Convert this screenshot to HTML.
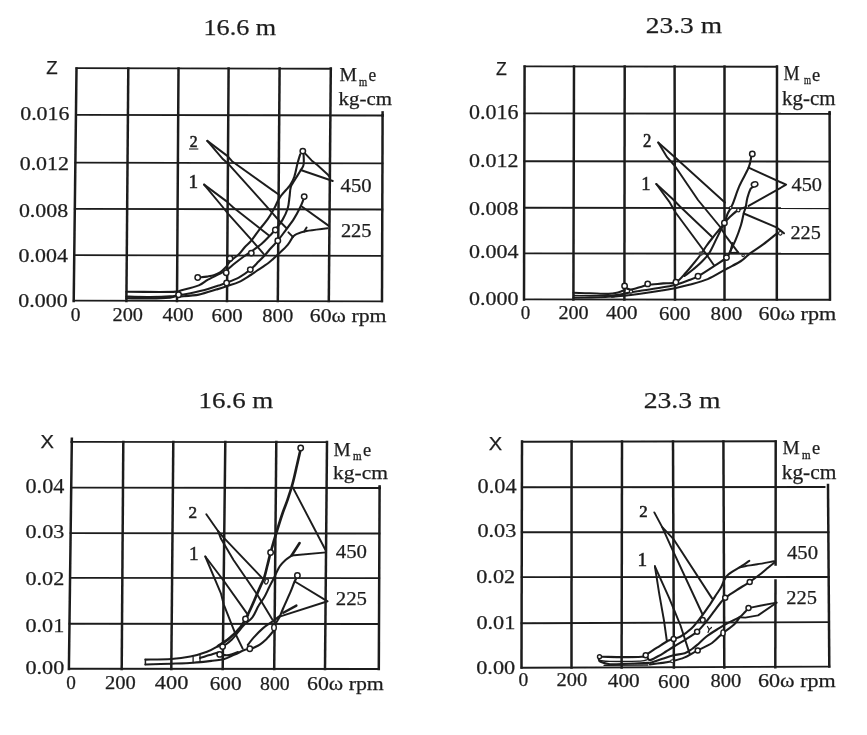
<!DOCTYPE html>
<html><head><meta charset="utf-8"><title>chart</title>
<style>
html,body{margin:0;padding:0;background:#fff;}
body{width:867px;height:735px;overflow:hidden;font-family:"Liberation Serif",serif;}
svg{display:block;}
</style></head><body>
<svg width="867" height="735" viewBox="0 0 867 735">
<defs><filter id="b" x="0" y="0" width="867" height="735" filterUnits="userSpaceOnUse"><feGaussianBlur stdDeviation="0.4"/></filter></defs>
<rect width="867" height="735" fill="#fff"/>
<g filter="url(#b)">
<line x1="76.5" y1="68.5" x2="73.7" y2="301" stroke="#1e1e1e" stroke-width="2.5" stroke-linecap="square"/>
<line x1="128.3" y1="68.5" x2="126.4" y2="301" stroke="#1e1e1e" stroke-width="2.5" stroke-linecap="square"/>
<line x1="178.5" y1="68.5" x2="177" y2="301" stroke="#1e1e1e" stroke-width="2.5" stroke-linecap="square"/>
<line x1="228.6" y1="68.5" x2="227" y2="301" stroke="#1e1e1e" stroke-width="2.5" stroke-linecap="square"/>
<line x1="279.6" y1="68.5" x2="277.8" y2="301" stroke="#1e1e1e" stroke-width="2.5" stroke-linecap="square"/>
<line x1="330.8" y1="68.5" x2="328.8" y2="301" stroke="#1e1e1e" stroke-width="2.5" stroke-linecap="square"/>
<line x1="382.6" y1="115.2" x2="382" y2="301" stroke="#1e1e1e" stroke-width="2.5" stroke-linecap="square"/>
<line x1="76.5" y1="68.15" x2="330.8" y2="68.73333333333333" stroke="#1e1e1e" stroke-width="1.9" stroke-linecap="square"/>
<line x1="75.93759139784946" y1="114.85000000000001" x2="382.6" y2="115.55" stroke="#1e1e1e" stroke-width="1.9" stroke-linecap="square"/>
<line x1="75.36193548387097" y1="162.65" x2="382.4456404736276" y2="163.35" stroke="#1e1e1e" stroke-width="1.9" stroke-linecap="square"/>
<line x1="74.80554838709678" y1="208.85" x2="382.2964477933262" y2="209.54999999999998" stroke="#1e1e1e" stroke-width="1.9" stroke-linecap="square"/>
<line x1="74.24795698924731" y1="255.15" x2="382.1469321851453" y2="255.85" stroke="#1e1e1e" stroke-width="1.9" stroke-linecap="square"/>
<line x1="73.7" y1="300.65" x2="382.0" y2="301.35" stroke="#1e1e1e" stroke-width="1.9" stroke-linecap="square"/>
<line x1="382.6" y1="112.4" x2="382.6" y2="115.5" stroke="#1e1e1e" stroke-width="2.5" stroke-linecap="square"/>
<text x="203.5" y="35.2" font-family="Liberation Serif" font-size="23.31" textLength="72.7" lengthAdjust="spacingAndGlyphs" fill="#1e1e1e" stroke="#1e1e1e" stroke-width="0.25" >16.6 m</text>
<text x="46.3" y="74.2" font-family="Liberation Sans" font-size="18.33" textLength="11.4" lengthAdjust="spacingAndGlyphs" fill="#1e1e1e" stroke="#1e1e1e" stroke-width="0.25" >Z</text>
<text x="20.2" y="120" font-family="Liberation Serif" font-size="19.10" textLength="49.3" lengthAdjust="spacingAndGlyphs" fill="#1e1e1e" stroke="#1e1e1e" stroke-width="0.25" >0.016</text>
<text x="19.7" y="169.8" font-family="Liberation Serif" font-size="19.55" textLength="49.3" lengthAdjust="spacingAndGlyphs" fill="#1e1e1e" stroke="#1e1e1e" stroke-width="0.25" >0.012</text>
<text x="18.9" y="216.5" font-family="Liberation Serif" font-size="19.55" textLength="49.3" lengthAdjust="spacingAndGlyphs" fill="#1e1e1e" stroke="#1e1e1e" stroke-width="0.25" >0.008</text>
<text x="18.6" y="262.2" font-family="Liberation Serif" font-size="19.40" textLength="49.3" lengthAdjust="spacingAndGlyphs" fill="#1e1e1e" stroke="#1e1e1e" stroke-width="0.25" >0.004</text>
<text x="18.3" y="307.2" font-family="Liberation Serif" font-size="19.85" textLength="49.3" lengthAdjust="spacingAndGlyphs" fill="#1e1e1e" stroke="#1e1e1e" stroke-width="0.25" >0.000</text>
<text x="70.8" y="320.5" font-family="Liberation Serif" font-size="19.10" textLength="9.7" lengthAdjust="spacingAndGlyphs" fill="#1e1e1e" stroke="#1e1e1e" stroke-width="0.25" >0</text>
<text x="112.5" y="320.5" font-family="Liberation Serif" font-size="19.10" textLength="30.5" lengthAdjust="spacingAndGlyphs" fill="#1e1e1e" stroke="#1e1e1e" stroke-width="0.25" >200</text>
<text x="162.5" y="320.5" font-family="Liberation Serif" font-size="19.10" textLength="31.2" lengthAdjust="spacingAndGlyphs" fill="#1e1e1e" stroke="#1e1e1e" stroke-width="0.25" >400</text>
<text x="211.5" y="322" font-family="Liberation Serif" font-size="19.55" textLength="31.2" lengthAdjust="spacingAndGlyphs" fill="#1e1e1e" stroke="#1e1e1e" stroke-width="0.25" >600</text>
<text x="262.3" y="322" font-family="Liberation Serif" font-size="19.55" textLength="30.9" lengthAdjust="spacingAndGlyphs" fill="#1e1e1e" stroke="#1e1e1e" stroke-width="0.25" >800</text>
<text x="309.8" y="322.2" font-family="Liberation Serif" font-size="19.55" textLength="76.7" lengthAdjust="spacingAndGlyphs" fill="#1e1e1e" stroke="#1e1e1e" stroke-width="0.25" >60ω rpm</text>
<text x="339.5" y="80.8" font-family="Liberation Serif" font-size="18.95" textLength="17.5" lengthAdjust="spacingAndGlyphs" fill="#1e1e1e" stroke="#1e1e1e" stroke-width="0.25" >M</text>
<text x="359.0" y="85.6" font-family="Liberation Serif" font-size="11.52" textLength="8.2" lengthAdjust="spacingAndGlyphs" fill="#1e1e1e" stroke="#1e1e1e" stroke-width="0.3" >m</text>
<text x="368.6" y="81" font-family="Liberation Serif" font-size="18.51" textLength="7.7" lengthAdjust="spacingAndGlyphs" fill="#1e1e1e" stroke="#1e1e1e" stroke-width="0.25" >e</text>
<text x="338.6" y="104.6" font-family="Liberation Serif" font-size="18.45" textLength="53.3" lengthAdjust="spacingAndGlyphs" fill="#1e1e1e" stroke="#1e1e1e" stroke-width="0.25" >kg-cm</text>
<text x="340.6" y="192" font-family="Liberation Serif" font-size="19.55" textLength="31.0" lengthAdjust="spacingAndGlyphs" fill="#1e1e1e" stroke="#1e1e1e" stroke-width="0.25" >450</text>
<text x="340.9" y="236.8" font-family="Liberation Serif" font-size="19.55" textLength="30.7" lengthAdjust="spacingAndGlyphs" fill="#1e1e1e" stroke="#1e1e1e" stroke-width="0.25" >225</text>
<text x="189.8" y="147" font-family="Liberation Serif" font-size="16.54" textLength="7.8" lengthAdjust="spacingAndGlyphs" fill="#1e1e1e" stroke="#1e1e1e" stroke-width="0.6" >2</text>
<line x1="189.5" y1="149" x2="197.8" y2="149" stroke="#1e1e1e" stroke-width="1.1" stroke-linecap="square"/>
<text x="188.38" y="187.8" font-family="Liberation Serif" font-size="19.25" fill="#1e1e1e" stroke="#1e1e1e" stroke-width="0.5">1</text>
<path d="M126.3,291.8 C131.9,291.8 151.7,292.0 160.0,292.0 C168.3,292.0 172.4,291.9 176.0,291.6 C179.6,291.3 177.7,291.3 181.5,290.3 C185.3,289.3 194.4,287.2 198.8,285.4 C203.2,283.6 204.3,281.6 208.0,279.6 C211.7,277.6 217.7,274.7 220.7,273.2 C223.7,271.7 223.9,272.1 226.2,270.5 C228.5,268.9 231.7,265.8 234.6,263.5 C237.5,261.2 241.0,258.5 243.8,256.5 C246.6,254.5 248.3,253.6 251.3,251.5 C254.3,249.4 258.6,246.5 261.7,243.8 C264.8,241.1 267.8,237.8 270.0,235.5 C272.2,233.2 273.1,232.4 275.2,229.8 C277.3,227.2 280.4,223.5 282.5,219.9 C284.6,216.3 286.5,212.3 287.7,208.5 C288.9,204.7 289.0,200.6 289.5,197.0 C290.0,193.4 290.0,189.8 290.8,187.0 C291.6,184.2 292.8,183.3 294.4,180.5 C296.0,177.7 299.2,173.0 300.7,170.3 C302.2,167.7 303.1,167.2 303.6,164.6 C304.1,162.0 303.6,156.2 303.6,154.5" fill="none" stroke="#1e1e1e" stroke-width="2.1" stroke-linecap="round" stroke-linejoin="round"/>
<path d="M200.0,277.3 C201.2,277.2 204.7,277.0 207.0,276.6 C209.3,276.2 211.6,276.0 213.8,275.2 C216.1,274.4 218.6,273.3 220.5,272.0 C222.4,270.7 223.9,269.2 225.5,267.5 C227.1,265.8 227.8,263.7 230.0,261.5 C232.2,259.3 236.5,256.5 238.9,254.2 C241.3,251.9 242.4,249.8 244.5,247.5 C246.6,245.2 248.8,243.7 251.3,240.7 C253.8,237.7 256.8,232.9 259.6,229.3 C262.4,225.7 265.5,222.4 267.9,218.9 C270.3,215.4 272.2,212.1 274.2,208.5 C276.2,204.9 277.2,201.2 279.9,197.3 C282.6,193.4 287.9,188.3 290.3,184.8 C292.7,181.3 293.2,180.1 294.4,176.5 C295.6,172.9 296.6,166.7 297.6,163.0 C298.6,159.3 299.8,155.7 300.2,154.2" fill="none" stroke="#1e1e1e" stroke-width="2.1" stroke-linecap="round" stroke-linejoin="round"/>
<path d="M126.3,296.6 C130.2,296.7 142.7,297.1 150.0,297.0 C157.3,296.9 165.6,296.6 170.0,296.3 C174.4,296.1 175.4,295.6 176.5,295.5" fill="none" stroke="#1e1e1e" stroke-width="2.1" stroke-linecap="round" stroke-linejoin="round"/>
<path d="M126.3,298.3 C130.2,298.3 142.7,298.6 150.0,298.5 C157.3,298.4 165.6,298.0 170.0,297.6 C174.4,297.2 175.4,296.3 176.5,296.0" fill="none" stroke="#1e1e1e" stroke-width="2.1" stroke-linecap="round" stroke-linejoin="round"/>
<line x1="126.3" y1="291.8" x2="126.3" y2="298.3" stroke="#1e1e1e" stroke-width="1.2" stroke-linecap="square"/>
<path d="M180.5,294.3 C181.2,294.3 181.0,295.0 185.0,294.3 C189.0,293.6 199.0,291.4 204.6,290.0 C210.2,288.6 214.8,286.8 218.4,285.6 C222.1,284.4 223.0,284.2 226.5,282.8 C230.0,281.4 235.2,279.5 239.2,277.3 C243.1,275.1 247.0,272.4 250.2,269.8 C253.4,267.2 256.2,264.0 258.6,261.6 C261.0,259.2 262.7,257.5 264.8,255.2 C266.9,252.9 268.8,250.4 271.0,248.0 C273.2,245.6 275.4,243.6 277.8,240.7 C280.2,237.8 282.9,233.9 285.6,230.3 C288.3,226.7 291.5,222.7 293.9,218.9 C296.3,215.1 298.6,210.6 300.1,207.5 C301.7,204.4 302.7,201.4 303.2,200.2" fill="none" stroke="#1e1e1e" stroke-width="2.1" stroke-linecap="round" stroke-linejoin="round"/>
<path d="M180.0,296.5 C183.1,296.2 192.8,295.8 198.8,294.6 C204.8,293.5 211.5,291.0 216.1,289.6 C220.7,288.2 222.7,287.6 226.5,286.3 C230.3,285.0 235.2,283.8 239.2,281.9 C243.2,280.0 247.8,276.8 250.7,275.0 C253.6,273.2 253.4,273.1 256.5,271.0 C259.6,268.9 265.2,265.5 269.0,262.5 C272.8,259.5 276.3,256.1 279.4,253.1 C282.5,250.2 285.5,247.5 287.7,244.8 C289.9,242.1 291.9,238.2 292.7,236.9" fill="none" stroke="#1e1e1e" stroke-width="2.1" stroke-linecap="round" stroke-linejoin="round"/>
<path d="M288.4,232.4 L292.9,236.9" fill="none" stroke="#1e1e1e" stroke-width="1.95" stroke-linecap="round" stroke-linejoin="round"/>
<path d="M292.7,236.9 C293.3,236.4 294.2,235.1 296.5,234.1 C298.8,233.1 301.4,232.0 306.6,231.0 C311.8,230.0 324.0,228.8 327.5,228.3" fill="none" stroke="#1e1e1e" stroke-width="1.95" stroke-linecap="round" stroke-linejoin="round"/>
<path d="M306.6,227.6 L304.2,231.6" fill="none" stroke="#1e1e1e" stroke-width="1.95" stroke-linecap="round" stroke-linejoin="round"/>
<path d="M301.8,206.5 L328.8,225.9" fill="none" stroke="#1e1e1e" stroke-width="1.95" stroke-linecap="round" stroke-linejoin="round"/>
<path d="M305.5,153.8 L311.6,160.4 L317.3,165.1 L327.7,174.4 L329.5,176.8" fill="none" stroke="#1e1e1e" stroke-width="1.95" stroke-linecap="round" stroke-linejoin="round"/>
<path d="M300.7,170.0 L332.8,181.0" fill="none" stroke="#1e1e1e" stroke-width="1.95" stroke-linecap="round" stroke-linejoin="round"/>
<path d="M207.3,140.9 L227.6,156.1 L232.0,161.2 L279.0,194.8" fill="none" stroke="#1e1e1e" stroke-width="1.95" stroke-linecap="round" stroke-linejoin="round"/>
<path d="M207.3,140.9 L223.1,159.3 L228.8,164.3 L266.3,206.2 L279.4,221.0 L286.6,228.2" fill="none" stroke="#1e1e1e" stroke-width="1.95" stroke-linecap="round" stroke-linejoin="round"/>
<path d="M204.1,184.6 L226.3,201.1 L233.3,207.5 L269.0,235.5" fill="none" stroke="#1e1e1e" stroke-width="1.95" stroke-linecap="round" stroke-linejoin="round"/>
<path d="M204.1,184.6 L223.1,207.5 L228.2,213.8 L251.3,239.6 L263.8,254.2" fill="none" stroke="#1e1e1e" stroke-width="1.95" stroke-linecap="round" stroke-linejoin="round"/>
<circle cx="178.6" cy="294.8" r="2.7" fill="#fff" stroke="#1e1e1e" stroke-width="1.5"/>
<circle cx="197.7" cy="277.5" r="2.7" fill="#fff" stroke="#1e1e1e" stroke-width="1.5"/>
<circle cx="226.2" cy="272.7" r="2.7" fill="#fff" stroke="#1e1e1e" stroke-width="1.5"/>
<circle cx="226.6" cy="283" r="2.7" fill="#fff" stroke="#1e1e1e" stroke-width="1.5"/>
<circle cx="230" cy="258.4" r="2.7" fill="#fff" stroke="#1e1e1e" stroke-width="1.5"/>
<circle cx="251.3" cy="253.1" r="2.7" fill="#fff" stroke="#1e1e1e" stroke-width="1.5"/>
<circle cx="250.3" cy="269.6" r="2.7" fill="#fff" stroke="#1e1e1e" stroke-width="1.5"/>
<circle cx="275.3" cy="230" r="2.7" fill="#fff" stroke="#1e1e1e" stroke-width="1.5"/>
<circle cx="277.8" cy="240.7" r="2.7" fill="#fff" stroke="#1e1e1e" stroke-width="1.5"/>
<circle cx="302.8" cy="151.1" r="2.7" fill="#fff" stroke="#1e1e1e" stroke-width="1.5"/>
<circle cx="304.2" cy="196.6" r="2.7" fill="#fff" stroke="#1e1e1e" stroke-width="1.5"/>
<line x1="524.6" y1="66.6" x2="524" y2="299.6" stroke="#1e1e1e" stroke-width="2.5" stroke-linecap="square"/>
<line x1="574" y1="66.6" x2="573.4" y2="299.6" stroke="#1e1e1e" stroke-width="2.5" stroke-linecap="square"/>
<line x1="624.7" y1="66.6" x2="624.4" y2="299.6" stroke="#1e1e1e" stroke-width="2.5" stroke-linecap="square"/>
<line x1="674.6" y1="66.6" x2="675" y2="299.6" stroke="#1e1e1e" stroke-width="2.5" stroke-linecap="square"/>
<line x1="724.5" y1="66.6" x2="724.5" y2="299.6" stroke="#1e1e1e" stroke-width="2.5" stroke-linecap="square"/>
<line x1="777" y1="66.6" x2="776.8" y2="299.6" stroke="#1e1e1e" stroke-width="2.5" stroke-linecap="square"/>
<line x1="829.6" y1="113.6" x2="830" y2="299.6" stroke="#1e1e1e" stroke-width="2.5" stroke-linecap="square"/>
<line x1="524.6" y1="66.39999999999999" x2="777" y2="66.73333333333333" stroke="#1e1e1e" stroke-width="1.9" stroke-linecap="square"/>
<line x1="524.4789699570815" y1="113.39999999999999" x2="829.6" y2="113.8" stroke="#1e1e1e" stroke-width="1.9" stroke-linecap="square"/>
<line x1="524.3558798283262" y1="161.20000000000002" x2="829.7027956989248" y2="161.6" stroke="#1e1e1e" stroke-width="1.9" stroke-linecap="square"/>
<line x1="524.2358798283262" y1="207.8" x2="829.8030107526882" y2="208.2" stroke="#1e1e1e" stroke-width="1.9" stroke-linecap="square"/>
<line x1="524.1184549356224" y1="253.4" x2="829.9010752688172" y2="253.79999999999998" stroke="#1e1e1e" stroke-width="1.9" stroke-linecap="square"/>
<line x1="524.0" y1="299.40000000000003" x2="830.0" y2="299.8" stroke="#1e1e1e" stroke-width="1.9" stroke-linecap="square"/>
<line x1="829.6" y1="112.2" x2="829.6" y2="113.8" stroke="#1e1e1e" stroke-width="2.5" stroke-linecap="square"/>
<text x="645.8" y="33.4" font-family="Liberation Serif" font-size="23.61" textLength="76.2" lengthAdjust="spacingAndGlyphs" fill="#1e1e1e" stroke="#1e1e1e" stroke-width="0.25" >23.3 m</text>
<text x="496" y="74.7" font-family="Liberation Sans" font-size="18.06" textLength="10.8" lengthAdjust="spacingAndGlyphs" fill="#1e1e1e" stroke="#1e1e1e" stroke-width="0.25" >Z</text>
<text x="469" y="119.3" font-family="Liberation Serif" font-size="20.00" textLength="49.5" lengthAdjust="spacingAndGlyphs" fill="#1e1e1e" stroke="#1e1e1e" stroke-width="0.25" >0.016</text>
<text x="469" y="167.3" font-family="Liberation Serif" font-size="19.40" textLength="49.5" lengthAdjust="spacingAndGlyphs" fill="#1e1e1e" stroke="#1e1e1e" stroke-width="0.25" >0.012</text>
<text x="469" y="215" font-family="Liberation Serif" font-size="19.25" textLength="49.5" lengthAdjust="spacingAndGlyphs" fill="#1e1e1e" stroke="#1e1e1e" stroke-width="0.25" >0.008</text>
<text x="469" y="258.3" font-family="Liberation Serif" font-size="19.25" textLength="49.5" lengthAdjust="spacingAndGlyphs" fill="#1e1e1e" stroke="#1e1e1e" stroke-width="0.25" >0.004</text>
<text x="469" y="304.6" font-family="Liberation Serif" font-size="19.40" textLength="49.5" lengthAdjust="spacingAndGlyphs" fill="#1e1e1e" stroke="#1e1e1e" stroke-width="0.25" >0.000</text>
<text x="520.8" y="319.2" font-family="Liberation Serif" font-size="19.10" textLength="9.5" lengthAdjust="spacingAndGlyphs" fill="#1e1e1e" stroke="#1e1e1e" stroke-width="0.25" >0</text>
<text x="558.4" y="319.2" font-family="Liberation Serif" font-size="19.25" textLength="30.2" lengthAdjust="spacingAndGlyphs" fill="#1e1e1e" stroke="#1e1e1e" stroke-width="0.25" >200</text>
<text x="606.1" y="319.2" font-family="Liberation Serif" font-size="19.25" textLength="31.5" lengthAdjust="spacingAndGlyphs" fill="#1e1e1e" stroke="#1e1e1e" stroke-width="0.25" >400</text>
<text x="659" y="319.8" font-family="Liberation Serif" font-size="19.70" textLength="31.4" lengthAdjust="spacingAndGlyphs" fill="#1e1e1e" stroke="#1e1e1e" stroke-width="0.25" >600</text>
<text x="710.6" y="319.8" font-family="Liberation Serif" font-size="19.70" textLength="31.6" lengthAdjust="spacingAndGlyphs" fill="#1e1e1e" stroke="#1e1e1e" stroke-width="0.25" >800</text>
<text x="758.4" y="320" font-family="Liberation Serif" font-size="19.70" textLength="77.8" lengthAdjust="spacingAndGlyphs" fill="#1e1e1e" stroke="#1e1e1e" stroke-width="0.25" >60ω rpm</text>
<text x="783.4" y="80.4" font-family="Liberation Serif" font-size="20.15" textLength="16.1" lengthAdjust="spacingAndGlyphs" fill="#1e1e1e" stroke="#1e1e1e" stroke-width="0.25" >M</text>
<text x="804.0" y="84.3" font-family="Liberation Serif" font-size="11.52" textLength="7.0" lengthAdjust="spacingAndGlyphs" fill="#1e1e1e" stroke="#1e1e1e" stroke-width="0.3" >m</text>
<text x="812.1" y="80.8" font-family="Liberation Serif" font-size="19.15" textLength="8.2" lengthAdjust="spacingAndGlyphs" fill="#1e1e1e" stroke="#1e1e1e" stroke-width="0.25" >e</text>
<text x="782.1" y="104.8" font-family="Liberation Serif" font-size="19.91" textLength="53.4" lengthAdjust="spacingAndGlyphs" fill="#1e1e1e" stroke="#1e1e1e" stroke-width="0.25" >kg-cm</text>
<text x="791.5" y="191" font-family="Liberation Serif" font-size="19.55" textLength="30.5" lengthAdjust="spacingAndGlyphs" fill="#1e1e1e" stroke="#1e1e1e" stroke-width="0.25" >450</text>
<text x="790.5" y="239.2" font-family="Liberation Serif" font-size="19.10" textLength="30.3" lengthAdjust="spacingAndGlyphs" fill="#1e1e1e" stroke="#1e1e1e" stroke-width="0.25" >225</text>
<text x="642.9" y="147" font-family="Liberation Serif" font-size="18.80" textLength="8.4" lengthAdjust="spacingAndGlyphs" fill="#1e1e1e" stroke="#1e1e1e" stroke-width="0.6" >2</text>
<text x="641.25" y="189.8" font-family="Liberation Serif" font-size="18.65" fill="#1e1e1e" stroke="#1e1e1e" stroke-width="0.5">1</text>
<path d="M573.6,292.8 C576.3,292.9 584.2,293.0 590.0,293.2 C595.8,293.4 603.7,294.0 608.4,293.9 C613.1,293.8 615.3,293.1 618.0,292.5 C620.7,291.9 623.5,290.4 624.6,290.0" fill="none" stroke="#1e1e1e" stroke-width="2.1" stroke-linecap="round" stroke-linejoin="round"/>
<path d="M573.6,297.6 C576.3,297.6 584.2,297.5 590.0,297.4 C595.8,297.3 603.4,297.2 608.4,296.8 C613.4,296.4 618.1,295.3 620.0,295.0" fill="none" stroke="#1e1e1e" stroke-width="2.1" stroke-linecap="round" stroke-linejoin="round"/>
<path d="M573.6,295.3 C576.3,295.4 583.9,295.6 590.0,295.6 C596.1,295.6 606.7,295.4 610.0,295.3" fill="none" stroke="#1e1e1e" stroke-width="1.3" stroke-linecap="round" stroke-linejoin="round"/>
<line x1="573.6" y1="292.8" x2="573.6" y2="297.6" stroke="#1e1e1e" stroke-width="1.3" stroke-linecap="square"/>
<path d="M624.6,287.5 C625.7,287.9 628.3,289.7 631.0,289.6 C633.7,289.5 637.9,287.7 640.7,286.9 C643.5,286.1 643.9,285.6 647.7,285.0 C651.5,284.4 658.6,283.9 663.3,283.4 C668.0,282.9 672.1,284.0 675.9,282.2 C679.7,280.4 683.0,275.7 686.0,272.5 C689.0,269.3 691.5,266.0 694.0,263.0 C696.5,260.0 698.8,257.2 700.8,254.5 C702.8,251.8 704.1,249.2 706.0,246.5 C707.9,243.8 710.2,240.8 712.4,238.0 C714.6,235.2 717.3,232.0 719.3,229.5 C721.3,227.0 723.0,225.5 724.4,222.9 C725.8,220.3 726.2,217.0 727.5,214.0 C728.8,211.0 730.4,209.3 732.4,204.7 C734.4,200.1 736.6,192.4 739.3,186.2 C742.0,180.0 746.6,172.6 748.6,167.7 C750.6,162.8 750.8,158.8 751.2,157.0" fill="none" stroke="#1e1e1e" stroke-width="2.1" stroke-linecap="round" stroke-linejoin="round"/>
<path d="M724.4,222.9 C723.1,225.4 719.3,233.1 716.8,238.1 C714.3,243.1 711.8,249.0 709.3,253.0 C706.8,257.0 704.2,259.2 701.5,262.0 C698.8,264.8 695.8,267.2 693.0,269.5 C690.2,271.8 685.9,274.9 684.5,276.0" fill="none" stroke="#1e1e1e" stroke-width="2.1" stroke-linecap="round" stroke-linejoin="round"/>
<path d="M745.7,207.3 C744.5,207.8 740.7,208.5 738.2,210.0 C735.7,211.5 732.8,214.2 730.5,216.3 C728.2,218.5 725.4,221.8 724.4,222.9" fill="none" stroke="#1e1e1e" stroke-width="2.1" stroke-linecap="round" stroke-linejoin="round"/>
<path d="M753.0,187.0 C752.6,187.3 751.4,187.2 750.5,189.0 C749.6,190.8 748.2,194.8 747.4,197.8 C746.6,200.8 746.3,204.5 745.7,207.0 C745.1,209.5 744.6,210.0 743.8,213.0 C743.0,216.0 742.4,220.5 741.0,225.0 C739.6,229.5 737.4,235.7 735.5,240.2 C733.6,244.7 731.4,249.1 729.9,252.0 C728.4,254.9 729.3,255.2 726.5,257.6 C723.7,260.0 718.0,263.5 713.3,266.6 C708.5,269.7 702.0,274.1 698.0,276.3 C694.0,278.5 693.0,278.6 689.2,280.0 C685.4,281.4 680.4,283.6 675.0,285.0 C669.6,286.4 662.1,287.4 656.9,288.3 C651.7,289.2 648.3,289.5 644.0,290.2 C639.7,290.9 635.0,291.6 631.0,292.3 C627.0,293.0 623.8,293.9 620.0,294.5 C616.2,295.1 610.3,295.8 608.4,296.0" fill="none" stroke="#1e1e1e" stroke-width="2.1" stroke-linecap="round" stroke-linejoin="round"/>
<path d="M777.0,233.4 C774.7,235.2 767.8,241.0 763.2,244.4 C758.6,247.8 753.0,251.3 749.3,254.1 C745.6,256.9 744.9,258.5 741.0,261.0 C737.1,263.5 731.3,266.3 725.8,269.3 C720.2,272.3 713.8,276.5 707.7,279.1 C701.6,281.7 694.7,283.3 689.2,284.8 C683.8,286.3 681.5,286.9 675.0,288.2 C668.5,289.4 657.7,291.2 650.4,292.3 C643.1,293.4 637.4,294.2 631.0,295.0 C624.6,295.8 615.2,296.5 612.0,296.8" fill="none" stroke="#1e1e1e" stroke-width="2.1" stroke-linecap="round" stroke-linejoin="round"/>
<path d="M748.6,167.7 L786.1,184.7 L748.6,205.9" fill="none" stroke="#1e1e1e" stroke-width="1.95" stroke-linecap="round" stroke-linejoin="round"/>
<path d="M743.8,213.5 L777.1,227.7 L784.0,233.3" fill="none" stroke="#1e1e1e" stroke-width="1.95" stroke-linecap="round" stroke-linejoin="round"/>
<path d="M658.2,142.5 L674.9,157.2 L724.9,202.5" fill="none" stroke="#1e1e1e" stroke-width="1.95" stroke-linecap="round" stroke-linejoin="round"/>
<path d="M658.2,142.5 L667.1,157.2 L674.9,166.0 L698.0,200.0 L720.2,227.0 L725.8,236.1 L738.3,252.7" fill="none" stroke="#1e1e1e" stroke-width="1.95" stroke-linecap="round" stroke-linejoin="round"/>
<path d="M732.5,243.0 L730.0,253.0 L738.3,252.7" fill="none" stroke="#1e1e1e" stroke-width="1.95" stroke-linecap="round" stroke-linejoin="round"/>
<path d="M656.3,184.0 L672.9,199.3 L680.0,206.5 L711.9,236.8" fill="none" stroke="#1e1e1e" stroke-width="1.95" stroke-linecap="round" stroke-linejoin="round"/>
<path d="M656.3,184.0 L669.0,201.3 L675.9,213.0 L702.2,248.5 L714.0,265.2" fill="none" stroke="#1e1e1e" stroke-width="1.95" stroke-linecap="round" stroke-linejoin="round"/>
<circle cx="624.6" cy="285.9" r="2.7" fill="#fff" stroke="#1e1e1e" stroke-width="1.5"/>
<circle cx="647.7" cy="283.9" r="2.7" fill="#fff" stroke="#1e1e1e" stroke-width="1.5"/>
<circle cx="675.9" cy="282.2" r="2.7" fill="#fff" stroke="#1e1e1e" stroke-width="1.5"/>
<circle cx="698" cy="276.3" r="2.7" fill="#fff" stroke="#1e1e1e" stroke-width="1.5"/>
<circle cx="724.4" cy="222.9" r="2.7" fill="#fff" stroke="#1e1e1e" stroke-width="1.5"/>
<circle cx="726.5" cy="257.6" r="2.7" fill="#fff" stroke="#1e1e1e" stroke-width="1.5"/>
<circle cx="752.3" cy="153.9" r="2.7" fill="#fff" stroke="#1e1e1e" stroke-width="1.5"/>
<circle cx="631" cy="291.5" r="1.6" fill="#fff" stroke="#1e1e1e" stroke-width="1.2"/>
<circle cx="738.3" cy="210.2" r="1.7" fill="#fff" stroke="#1e1e1e" stroke-width="1.2"/>
<circle cx="730.6" cy="207.8" r="1.3" fill="#fff" stroke="#1e1e1e" stroke-width="1.1"/>
<circle cx="743.1" cy="255.5" r="1.2" fill="#fff" stroke="#1e1e1e" stroke-width="1.1"/>
<circle cx="780.3" cy="233.3" r="1.8" fill="#fff" stroke="#1e1e1e" stroke-width="1.2"/>
<circle cx="700.8" cy="253.6" r="2.4" fill="#444"/>
<ellipse cx="754.6" cy="184.4" rx="3.3" ry="2.5" transform="rotate(-20 754.6 184.4)" fill="#fff" stroke="#1e1e1e" stroke-width="1.5"/>
<line x1="71.8" y1="442" x2="68.9" y2="668.9" stroke="#1e1e1e" stroke-width="2.5" stroke-linecap="square"/>
<line x1="123.3" y1="442" x2="121.7" y2="668.9" stroke="#1e1e1e" stroke-width="2.5" stroke-linecap="square"/>
<line x1="173.3" y1="442" x2="171.3" y2="668.9" stroke="#1e1e1e" stroke-width="2.5" stroke-linecap="square"/>
<line x1="225.3" y1="442" x2="222.7" y2="668.9" stroke="#1e1e1e" stroke-width="2.5" stroke-linecap="square"/>
<line x1="276.3" y1="442" x2="274.2" y2="668.9" stroke="#1e1e1e" stroke-width="2.5" stroke-linecap="square"/>
<line x1="327" y1="442" x2="325" y2="668.9" stroke="#1e1e1e" stroke-width="2.5" stroke-linecap="square"/>
<line x1="379.6" y1="487.8" x2="378.8" y2="668.9" stroke="#1e1e1e" stroke-width="2.5" stroke-linecap="square"/>
<line x1="71.8" y1="441.85" x2="327" y2="442.1" stroke="#1e1e1e" stroke-width="1.9" stroke-linecap="square"/>
<line x1="71.21463199647421" y1="487.65000000000003" x2="379.6" y2="487.95" stroke="#1e1e1e" stroke-width="1.9" stroke-linecap="square"/>
<line x1="70.63309828118113" y1="533.15" x2="379.39900607399227" y2="533.4499999999999" stroke="#1e1e1e" stroke-width="1.9" stroke-linecap="square"/>
<line x1="70.0617893345086" y1="577.85" x2="379.20154610712314" y2="578.15" stroke="#1e1e1e" stroke-width="1.9" stroke-linecap="square"/>
<line x1="69.47514323490525" y1="623.75" x2="378.9987852015461" y2="624.05" stroke="#1e1e1e" stroke-width="1.9" stroke-linecap="square"/>
<line x1="68.9" y1="668.75" x2="378.8" y2="669.05" stroke="#1e1e1e" stroke-width="1.9" stroke-linecap="square"/>
<line x1="71.85" y1="438.8" x2="71.8" y2="441.8" stroke="#1e1e1e" stroke-width="2.5" stroke-linecap="square"/>
<line x1="379.6" y1="486.4" x2="379.6" y2="488" stroke="#1e1e1e" stroke-width="2.5" stroke-linecap="square"/>
<text x="198.5" y="408.4" font-family="Liberation Serif" font-size="23.16" textLength="74.8" lengthAdjust="spacingAndGlyphs" fill="#1e1e1e" stroke="#1e1e1e" stroke-width="0.25" >16.6 m</text>
<text x="40.6" y="447.7" font-family="Liberation Sans" font-size="19.03" textLength="13.4" lengthAdjust="spacingAndGlyphs" fill="#1e1e1e" stroke="#1e1e1e" stroke-width="0.25" >X</text>
<text x="25.5" y="492.7" font-family="Liberation Serif" font-size="20.15" textLength="38.8" lengthAdjust="spacingAndGlyphs" fill="#1e1e1e" stroke="#1e1e1e" stroke-width="0.25" >0.04</text>
<text x="25.5" y="537.5" font-family="Liberation Serif" font-size="19.70" textLength="38.8" lengthAdjust="spacingAndGlyphs" fill="#1e1e1e" stroke="#1e1e1e" stroke-width="0.25" >0.03</text>
<text x="25.5" y="585" font-family="Liberation Serif" font-size="19.55" textLength="38.8" lengthAdjust="spacingAndGlyphs" fill="#1e1e1e" stroke="#1e1e1e" stroke-width="0.25" >0.02</text>
<text x="25.5" y="632" font-family="Liberation Serif" font-size="19.55" textLength="38.8" lengthAdjust="spacingAndGlyphs" fill="#1e1e1e" stroke="#1e1e1e" stroke-width="0.25" >0.01</text>
<text x="25.5" y="673.8" font-family="Liberation Serif" font-size="19.55" textLength="38.8" lengthAdjust="spacingAndGlyphs" fill="#1e1e1e" stroke="#1e1e1e" stroke-width="0.25" >0.00</text>
<text x="66.2" y="688.8" font-family="Liberation Serif" font-size="19.55" textLength="9.6" lengthAdjust="spacingAndGlyphs" fill="#1e1e1e" stroke="#1e1e1e" stroke-width="0.25" >0</text>
<text x="105" y="688.8" font-family="Liberation Serif" font-size="19.55" textLength="30.8" lengthAdjust="spacingAndGlyphs" fill="#1e1e1e" stroke="#1e1e1e" stroke-width="0.25" >200</text>
<text x="154.8" y="688.8" font-family="Liberation Serif" font-size="19.55" textLength="33.5" lengthAdjust="spacingAndGlyphs" fill="#1e1e1e" stroke="#1e1e1e" stroke-width="0.25" >400</text>
<text x="209.7" y="690.2" font-family="Liberation Serif" font-size="19.85" textLength="31.8" lengthAdjust="spacingAndGlyphs" fill="#1e1e1e" stroke="#1e1e1e" stroke-width="0.25" >600</text>
<text x="260" y="690.2" font-family="Liberation Serif" font-size="19.85" textLength="29.7" lengthAdjust="spacingAndGlyphs" fill="#1e1e1e" stroke="#1e1e1e" stroke-width="0.25" >800</text>
<text x="307" y="689.5" font-family="Liberation Serif" font-size="19.85" textLength="76.8" lengthAdjust="spacingAndGlyphs" fill="#1e1e1e" stroke="#1e1e1e" stroke-width="0.25" >60ω rpm</text>
<text x="333.6" y="455.5" font-family="Liberation Serif" font-size="19.40" textLength="17.2" lengthAdjust="spacingAndGlyphs" fill="#1e1e1e" stroke="#1e1e1e" stroke-width="0.25" >M</text>
<text x="353.1" y="459.9" font-family="Liberation Serif" font-size="11.52" textLength="8.6" lengthAdjust="spacingAndGlyphs" fill="#1e1e1e" stroke="#1e1e1e" stroke-width="0.3" >m</text>
<text x="363.1" y="455.5" font-family="Liberation Serif" font-size="18.94" textLength="8.2" lengthAdjust="spacingAndGlyphs" fill="#1e1e1e" stroke="#1e1e1e" stroke-width="0.25" >e</text>
<text x="333.1" y="478.8" font-family="Liberation Serif" font-size="19.18" textLength="54.8" lengthAdjust="spacingAndGlyphs" fill="#1e1e1e" stroke="#1e1e1e" stroke-width="0.25" >kg-cm</text>
<text x="335.8" y="558.3" font-family="Liberation Serif" font-size="19.25" textLength="31.2" lengthAdjust="spacingAndGlyphs" fill="#1e1e1e" stroke="#1e1e1e" stroke-width="0.25" >450</text>
<text x="335.8" y="605" font-family="Liberation Serif" font-size="19.55" textLength="31.2" lengthAdjust="spacingAndGlyphs" fill="#1e1e1e" stroke="#1e1e1e" stroke-width="0.25" >225</text>
<text x="188.6" y="518" font-family="Liberation Serif" font-size="17.59" textLength="8.6" lengthAdjust="spacingAndGlyphs" fill="#1e1e1e" stroke="#1e1e1e" stroke-width="0.6" >2</text>
<text x="189.08" y="560.4" font-family="Liberation Serif" font-size="19.25" fill="#1e1e1e" stroke="#1e1e1e" stroke-width="0.5">1</text>
<line x1="145.4" y1="659.6" x2="145.4" y2="664.5" stroke="#1e1e1e" stroke-width="1.5" stroke-linecap="square"/>
<path d="M145.4,659.6 C149.7,659.5 163.8,659.5 171.3,659.0 C178.8,658.5 184.5,657.7 190.4,656.5 C196.3,655.3 202.4,653.4 207.0,651.7 C211.6,650.0 214.3,648.3 218.0,646.1 C221.7,643.9 227.2,639.8 229.1,638.5" fill="none" stroke="#1e1e1e" stroke-width="2.1" stroke-linecap="round" stroke-linejoin="round"/>
<path d="M218.0,646.1 C219.8,644.8 225.4,641.6 229.1,638.5 C232.8,635.4 237.5,630.8 240.2,627.5 C242.9,624.2 243.8,622.1 245.5,619.0 C247.2,615.9 248.7,612.9 250.5,609.0 C252.3,605.1 254.6,599.7 256.3,595.7 C258.1,591.7 259.7,588.0 261.0,585.0 C262.3,582.0 263.0,581.3 264.1,578.0 C265.2,574.7 266.4,569.2 267.5,565.0 C268.6,560.8 269.0,558.2 270.6,552.5 C272.2,546.8 274.8,537.8 276.9,531.0 C279.0,524.2 281.2,517.2 283.0,512.0 C284.8,506.8 286.0,504.3 287.6,499.6 C289.2,494.9 290.9,489.8 292.5,484.0 C294.1,478.2 295.7,470.5 297.0,465.0 C298.3,459.5 299.7,453.3 300.2,451.0" fill="none" stroke="#1e1e1e" stroke-width="2.7" stroke-linecap="round" stroke-linejoin="round"/>
<path d="M222.5,646.8 C224.1,645.6 228.5,643.0 231.9,639.5 C235.3,636.0 239.6,629.7 243.0,626.0 C246.4,622.3 249.8,620.6 252.4,617.3 C255.0,614.0 256.4,609.3 258.4,606.0 C260.3,602.7 262.4,600.6 264.1,597.6 C265.8,594.6 267.2,591.3 268.8,588.0 C270.4,584.7 272.1,581.6 273.9,578.0 C275.7,574.4 277.9,569.3 279.8,566.3 C281.7,563.3 283.5,561.8 285.5,560.0 C287.5,558.2 290.6,556.2 291.6,555.5" fill="none" stroke="#1e1e1e" stroke-width="2.1" stroke-linecap="round" stroke-linejoin="round"/>
<path d="M145.4,664.5 C149.7,664.4 163.4,664.0 171.3,663.7 C179.2,663.4 186.2,663.2 193.1,662.7 C200.0,662.2 207.4,661.3 212.5,660.7 C217.6,660.1 219.9,660.3 223.6,659.3 C227.3,658.3 231.2,656.1 234.7,654.6 C238.1,653.1 241.8,651.0 244.3,650.0 C246.8,649.0 249.0,649.1 249.9,648.9" fill="none" stroke="#1e1e1e" stroke-width="2.1" stroke-linecap="round" stroke-linejoin="round"/>
<path d="M200.0,657.9 C201.6,657.4 206.7,656.0 209.7,655.1 C212.7,654.2 216.3,652.7 218.0,652.6 C219.7,652.5 217.8,654.0 219.7,654.4 C221.5,654.8 226.0,655.5 229.1,655.1 C232.2,654.7 236.5,652.5 238.0,652.0" fill="none" stroke="#1e1e1e" stroke-width="2.1" stroke-linecap="round" stroke-linejoin="round"/>
<line x1="193.1" y1="657" x2="193.1" y2="662.6" stroke="#1e1e1e" stroke-width="1.3" stroke-linecap="square"/>
<line x1="200" y1="655.5" x2="200" y2="662.4" stroke="#1e1e1e" stroke-width="1.3" stroke-linecap="square"/>
<path d="M296.5,578.0 C296.1,578.7 295.4,579.8 294.4,582.0 C293.4,584.2 292.5,587.1 290.7,591.4 C288.9,595.7 285.1,603.8 283.3,608.0 C281.5,612.2 281.1,613.8 279.8,616.5 C278.5,619.2 276.5,621.8 275.5,624.0 C274.5,626.2 274.5,628.7 274.0,630.0 C273.5,631.3 273.8,630.6 272.6,632.0 C271.4,633.4 269.0,636.6 266.9,638.6 C264.8,640.6 262.6,642.7 260.2,644.3 C257.8,645.9 253.8,647.6 252.5,648.3" fill="none" stroke="#1e1e1e" stroke-width="2.1" stroke-linecap="round" stroke-linejoin="round"/>
<path d="M279.6,616.0 C278.4,616.9 275.4,619.4 272.6,621.4 C269.9,623.4 266.3,625.4 263.1,628.1 C259.9,630.8 256.1,634.8 253.6,637.6 C251.0,640.4 248.8,643.8 247.8,645.0" fill="none" stroke="#1e1e1e" stroke-width="2.1" stroke-linecap="round" stroke-linejoin="round"/>
<path d="M294.8,581.5 L327.6,601.3 L279.6,616.6" fill="none" stroke="#1e1e1e" stroke-width="1.95" stroke-linecap="round" stroke-linejoin="round"/>
<path d="M296.4,605.6 L283.3,612.8" fill="none" stroke="#1e1e1e" stroke-width="2.4" stroke-linecap="round" stroke-linejoin="round"/>
<path d="M292.5,486.9 L325.9,550.8" fill="none" stroke="#1e1e1e" stroke-width="1.95" stroke-linecap="round" stroke-linejoin="round"/>
<path d="M291.6,555.5 L326.2,552.4" fill="none" stroke="#1e1e1e" stroke-width="1.95" stroke-linecap="round" stroke-linejoin="round"/>
<path d="M291.6,555.5 L299.6,543.0" fill="none" stroke="#1e1e1e" stroke-width="2.6" stroke-linecap="round" stroke-linejoin="round"/>
<path d="M206.3,514.3 L218.0,531.0 L223.9,537.8 L262.5,578.3" fill="none" stroke="#1e1e1e" stroke-width="1.95" stroke-linecap="round" stroke-linejoin="round"/>
<path d="M218.0,531.0 L221.0,538.8 L233.5,560.0 L257.5,595.0 L272.3,619.5" fill="none" stroke="#1e1e1e" stroke-width="1.95" stroke-linecap="round" stroke-linejoin="round"/>
<path d="M205.3,556.5 L223.9,581.0 L248.3,615.4" fill="none" stroke="#1e1e1e" stroke-width="1.95" stroke-linecap="round" stroke-linejoin="round"/>
<path d="M205.3,556.5 L221.0,593.7 L223.7,604.3 L235.4,633.8 L242.7,648.6" fill="none" stroke="#1e1e1e" stroke-width="1.95" stroke-linecap="round" stroke-linejoin="round"/>
<circle cx="300.7" cy="448" r="2.7" fill="#fff" stroke="#1e1e1e" stroke-width="1.5"/>
<circle cx="270.6" cy="552.5" r="2.7" fill="#fff" stroke="#1e1e1e" stroke-width="1.5"/>
<circle cx="297.4" cy="575.4" r="2.7" fill="#fff" stroke="#1e1e1e" stroke-width="1.5"/>
<circle cx="245.5" cy="619" r="2.7" fill="#fff" stroke="#1e1e1e" stroke-width="1.5"/>
<circle cx="249.8" cy="648.7" r="2.7" fill="#fff" stroke="#1e1e1e" stroke-width="1.5"/>
<circle cx="222.6" cy="646.6" r="2.7" fill="#fff" stroke="#1e1e1e" stroke-width="1.5"/>
<circle cx="219.7" cy="654.4" r="2.7" fill="#fff" stroke="#1e1e1e" stroke-width="1.5"/>
<ellipse cx="274" cy="627.5" rx="2.3" ry="3.3" fill="#fff" stroke="#1e1e1e" stroke-width="1.4"/>
<ellipse cx="266.5" cy="581.5" rx="1.6" ry="2.6" transform="rotate(25 266.5 581.5)" fill="#fff" stroke="#1e1e1e" stroke-width="1.2"/>
<line x1="522" y1="441.5" x2="521.5" y2="667.5" stroke="#1e1e1e" stroke-width="2.5" stroke-linecap="square"/>
<line x1="571.6" y1="441.5" x2="571.5" y2="667.5" stroke="#1e1e1e" stroke-width="2.5" stroke-linecap="square"/>
<line x1="622" y1="441.5" x2="621.6" y2="667.5" stroke="#1e1e1e" stroke-width="2.5" stroke-linecap="square"/>
<line x1="673" y1="441.5" x2="673.9" y2="667.5" stroke="#1e1e1e" stroke-width="2.5" stroke-linecap="square"/>
<line x1="723.4" y1="441.5" x2="724.3" y2="667.5" stroke="#1e1e1e" stroke-width="2.5" stroke-linecap="square"/>
<line x1="775.7" y1="441.5" x2="775.6" y2="564.4" stroke="#1e1e1e" stroke-width="2.5" stroke-linecap="square"/>
<line x1="775.5" y1="580.5" x2="775.3" y2="667.2" stroke="#1e1e1e" stroke-width="2.5" stroke-linecap="square"/>
<line x1="828" y1="485" x2="829.3" y2="666.6" stroke="#1e1e1e" stroke-width="2.5" stroke-linecap="square"/>
<line x1="522" y1="441.7" x2="775.7" y2="441.3" stroke="#1e1e1e" stroke-width="1.9" stroke-linecap="square"/>
<line x1="521.8985378821444" y1="487.3" x2="824.5" y2="487.0" stroke="#1e1e1e" stroke-width="1.9" stroke-linecap="square"/>
<line x1="521.7986264953478" y1="532.3" x2="828.5235711120957" y2="532.3" stroke="#1e1e1e" stroke-width="1.9" stroke-linecap="square"/>
<line x1="521.6996012405848" y1="577.1" x2="828.7810367744794" y2="577.0" stroke="#1e1e1e" stroke-width="1.9" stroke-linecap="square"/>
<line x1="521.5988037217545" y1="623.2" x2="829.0431103234382" y2="622.1" stroke="#1e1e1e" stroke-width="1.9" stroke-linecap="square"/>
<line x1="521.5" y1="667.8" x2="829.3" y2="666.6" stroke="#1e1e1e" stroke-width="1.9" stroke-linecap="square"/>
<text x="643.7" y="408.4" font-family="Liberation Serif" font-size="23.46" textLength="76.8" lengthAdjust="spacingAndGlyphs" fill="#1e1e1e" stroke="#1e1e1e" stroke-width="0.25" >23.3 m</text>
<text x="488.8" y="450" font-family="Liberation Sans" font-size="18.61" textLength="13.4" lengthAdjust="spacingAndGlyphs" fill="#1e1e1e" stroke="#1e1e1e" stroke-width="0.25" >X</text>
<text x="477.6" y="492.6" font-family="Liberation Serif" font-size="20.30" textLength="39.0" lengthAdjust="spacingAndGlyphs" fill="#1e1e1e" stroke="#1e1e1e" stroke-width="0.25" >0.04</text>
<text x="477.4" y="537.4" font-family="Liberation Serif" font-size="19.70" textLength="39.0" lengthAdjust="spacingAndGlyphs" fill="#1e1e1e" stroke="#1e1e1e" stroke-width="0.25" >0.03</text>
<text x="476.2" y="583.2" font-family="Liberation Serif" font-size="19.55" textLength="39.0" lengthAdjust="spacingAndGlyphs" fill="#1e1e1e" stroke="#1e1e1e" stroke-width="0.25" >0.02</text>
<text x="476.4" y="629" font-family="Liberation Serif" font-size="19.10" textLength="39.0" lengthAdjust="spacingAndGlyphs" fill="#1e1e1e" stroke="#1e1e1e" stroke-width="0.25" >0.01</text>
<text x="476.2" y="673.9" font-family="Liberation Serif" font-size="19.40" textLength="39.0" lengthAdjust="spacingAndGlyphs" fill="#1e1e1e" stroke="#1e1e1e" stroke-width="0.25" >0.00</text>
<text x="518.4" y="686.4" font-family="Liberation Serif" font-size="19.40" textLength="9.8" lengthAdjust="spacingAndGlyphs" fill="#1e1e1e" stroke="#1e1e1e" stroke-width="0.25" >0</text>
<text x="556.5" y="686.4" font-family="Liberation Serif" font-size="19.40" textLength="30.7" lengthAdjust="spacingAndGlyphs" fill="#1e1e1e" stroke="#1e1e1e" stroke-width="0.25" >200</text>
<text x="607.8" y="686.7" font-family="Liberation Serif" font-size="19.85" textLength="31.8" lengthAdjust="spacingAndGlyphs" fill="#1e1e1e" stroke="#1e1e1e" stroke-width="0.25" >400</text>
<text x="658.1" y="687.8" font-family="Liberation Serif" font-size="19.85" textLength="31.7" lengthAdjust="spacingAndGlyphs" fill="#1e1e1e" stroke="#1e1e1e" stroke-width="0.25" >600</text>
<text x="710.4" y="687.4" font-family="Liberation Serif" font-size="19.25" textLength="30.8" lengthAdjust="spacingAndGlyphs" fill="#1e1e1e" stroke="#1e1e1e" stroke-width="0.25" >800</text>
<text x="758" y="687.4" font-family="Liberation Serif" font-size="18.65" textLength="77.7" lengthAdjust="spacingAndGlyphs" fill="#1e1e1e" stroke="#1e1e1e" stroke-width="0.25" >60ω rpm</text>
<text x="782.6" y="454" font-family="Liberation Serif" font-size="19.55" textLength="17.2" lengthAdjust="spacingAndGlyphs" fill="#1e1e1e" stroke="#1e1e1e" stroke-width="0.25" >M</text>
<text x="802.1" y="458.9" font-family="Liberation Serif" font-size="11.52" textLength="8.6" lengthAdjust="spacingAndGlyphs" fill="#1e1e1e" stroke="#1e1e1e" stroke-width="0.3" >m</text>
<text x="812.1" y="454.4" font-family="Liberation Serif" font-size="18.51" textLength="8.2" lengthAdjust="spacingAndGlyphs" fill="#1e1e1e" stroke="#1e1e1e" stroke-width="0.25" >e</text>
<text x="781.7" y="478.8" font-family="Liberation Serif" font-size="19.91" textLength="54.7" lengthAdjust="spacingAndGlyphs" fill="#1e1e1e" stroke="#1e1e1e" stroke-width="0.25" >kg-cm</text>
<text x="787" y="559.3" font-family="Liberation Serif" font-size="19.25" textLength="31.0" lengthAdjust="spacingAndGlyphs" fill="#1e1e1e" stroke="#1e1e1e" stroke-width="0.25" >450</text>
<text x="786.3" y="603.8" font-family="Liberation Serif" font-size="19.55" textLength="30.7" lengthAdjust="spacingAndGlyphs" fill="#1e1e1e" stroke="#1e1e1e" stroke-width="0.25" >225</text>
<text x="639.2" y="516.5" font-family="Liberation Serif" font-size="17.29" textLength="8.4" lengthAdjust="spacingAndGlyphs" fill="#1e1e1e" stroke="#1e1e1e" stroke-width="0.6" >2</text>
<text x="637.48" y="566.3" font-family="Liberation Serif" font-size="19.25" fill="#1e1e1e" stroke="#1e1e1e" stroke-width="0.5">1</text>
<path d="M601.5,656.8 C604.9,656.8 615.0,657.1 621.7,657.1 C628.4,657.1 637.7,657.0 641.7,656.7 C645.7,656.4 643.0,656.8 645.5,655.3 C648.0,653.8 653.2,650.1 657.0,647.7 C660.8,645.3 665.2,642.3 668.0,640.8 C670.8,639.3 671.5,639.4 673.6,638.7 C675.7,638.0 677.6,638.2 680.6,636.5 C683.6,634.8 688.3,631.5 691.7,628.3 C695.1,625.1 697.8,621.2 700.9,617.2 C704.0,613.2 707.4,608.2 710.1,604.3 C712.8,600.3 715.1,596.4 717.0,593.5 C718.9,590.6 720.0,589.3 721.2,587.0 C722.5,584.7 723.3,581.6 724.5,579.5 C725.7,577.4 726.1,576.3 728.6,574.3 C731.1,572.3 737.0,569.0 739.6,567.4 C742.2,565.8 742.4,565.6 744.0,564.5 C745.6,563.4 748.4,561.4 749.3,560.8" fill="none" stroke="#1e1e1e" stroke-width="2.1" stroke-linecap="round" stroke-linejoin="round"/>
<path d="M647.5,657.5 C647.9,657.9 648.2,660.4 650.0,660.1 C651.8,659.9 655.8,657.4 658.5,656.0 C661.2,654.6 663.4,653.1 666.0,651.5 C668.6,649.9 671.1,648.4 674.1,646.5 C677.1,644.6 680.4,642.8 684.3,640.3 C688.1,637.8 693.6,634.6 697.2,631.6 C700.8,628.6 703.2,625.3 706.0,622.0 C708.8,618.7 711.5,614.8 713.8,611.7 C716.1,608.6 718.1,605.8 720.0,603.5 C721.9,601.2 722.6,599.9 725.2,597.8 C727.9,595.6 731.8,593.3 735.9,590.6 C740.0,587.9 745.6,584.6 749.8,581.8 C754.0,578.9 758.2,575.8 761.2,573.5 C764.2,571.2 765.8,569.6 768.0,567.8 C770.2,566.0 773.2,563.6 774.2,562.8" fill="none" stroke="#1e1e1e" stroke-width="2.1" stroke-linecap="round" stroke-linejoin="round"/>
<path d="M739.6,567.4 C740.7,567.2 743.0,566.5 746.0,566.0 C749.0,565.5 752.6,565.1 757.3,564.3 C762.0,563.5 771.4,561.7 774.2,561.2" fill="none" stroke="#1e1e1e" stroke-width="1.95" stroke-linecap="round" stroke-linejoin="round"/>
<path d="M598.8,659.3 C599.1,659.7 598.6,661.0 600.5,661.8 C602.4,662.6 606.4,663.9 609.9,664.3 C613.4,664.7 615.2,664.2 621.7,664.0 C628.2,663.8 644.2,663.1 648.7,662.9" fill="none" stroke="#1e1e1e" stroke-width="2.1" stroke-linecap="round" stroke-linejoin="round"/>
<path d="M604.0,665.3 L648.0,665.0" fill="none" stroke="#1e1e1e" stroke-width="1.3" stroke-linecap="round" stroke-linejoin="round"/>
<path d="M600.0,660.5 C601.7,660.6 603.3,661.3 610.0,661.4 C616.7,661.5 634.2,661.4 640.4,661.1 C646.6,660.8 646.1,659.9 647.3,659.6" fill="none" stroke="#1e1e1e" stroke-width="1.4" stroke-linecap="round" stroke-linejoin="round"/>
<path d="M650.0,662.9 C652.1,662.2 658.6,660.1 662.5,658.8 C666.4,657.5 669.9,656.2 673.6,655.3 C677.3,654.4 681.6,654.2 684.7,653.2 C687.8,652.2 689.9,650.4 692.0,649.0 C694.1,647.6 694.8,647.0 697.2,644.9 C699.6,642.8 703.1,639.1 706.5,636.5 C709.9,633.9 713.8,631.5 717.5,629.2 C721.2,626.9 724.9,624.7 728.6,622.7 C732.3,620.7 736.9,619.0 739.6,617.2 C742.3,615.4 743.5,613.5 745.0,612.0 C746.5,610.5 747.9,608.7 748.5,608.0" fill="none" stroke="#1e1e1e" stroke-width="2.1" stroke-linecap="round" stroke-linejoin="round"/>
<path d="M650.0,664.5 C652.1,664.2 658.8,663.4 662.5,662.9 C666.2,662.4 668.5,662.1 672.2,661.2 C675.9,660.3 680.5,659.2 684.7,657.4 C688.9,655.6 693.1,652.8 697.6,650.4 C702.1,648.0 707.8,645.9 712.0,643.0 C716.2,640.1 719.3,636.0 723.0,632.9 C726.7,629.8 731.3,627.2 734.1,624.6 C736.9,622.0 738.7,618.6 739.6,617.4" fill="none" stroke="#1e1e1e" stroke-width="2.1" stroke-linecap="round" stroke-linejoin="round"/>
<path d="M750.8,607.6 L761.2,605.5 L776.5,602.6" fill="none" stroke="#1e1e1e" stroke-width="1.95" stroke-linecap="round" stroke-linejoin="round"/>
<path d="M739.6,617.3 L745.2,617.6 L758.1,615.4 L776.5,602.8" fill="none" stroke="#1e1e1e" stroke-width="1.95" stroke-linecap="round" stroke-linejoin="round"/>
<path d="M707.5,626.5 L709.2,629.5 L708.0,632.5" fill="none" stroke="#1e1e1e" stroke-width="1.2" stroke-linecap="round" stroke-linejoin="round"/>
<path d="M709.2,629.5 L711.5,627.5" fill="none" stroke="#1e1e1e" stroke-width="1.2" stroke-linecap="round" stroke-linejoin="round"/>
<path d="M654.3,512.4 L662.2,527.1 L673.3,538.8 L712.2,598.6" fill="none" stroke="#1e1e1e" stroke-width="1.95" stroke-linecap="round" stroke-linejoin="round"/>
<path d="M662.2,527.1 L671.0,546.7 L702.6,614.5" fill="none" stroke="#1e1e1e" stroke-width="1.95" stroke-linecap="round" stroke-linejoin="round"/>
<path d="M654.9,566.3 L669.0,597.6 L674.1,609.8 L680.5,625.5 L689.8,654.1" fill="none" stroke="#1e1e1e" stroke-width="1.95" stroke-linecap="round" stroke-linejoin="round"/>
<path d="M654.9,566.3 L659.2,593.7 L663.9,620.0 L666.8,640.5" fill="none" stroke="#1e1e1e" stroke-width="1.95" stroke-linecap="round" stroke-linejoin="round"/>
<circle cx="599.5" cy="656.7" r="2.0" fill="#fff" stroke="#1e1e1e" stroke-width="1.4"/>
<circle cx="645.7" cy="655.2" r="2.5" fill="#fff" stroke="#1e1e1e" stroke-width="1.5"/>
<circle cx="673.6" cy="639" r="2.5" fill="#fff" stroke="#1e1e1e" stroke-width="1.5"/>
<circle cx="697.1" cy="631.8" r="2.5" fill="#fff" stroke="#1e1e1e" stroke-width="1.5"/>
<circle cx="702.7" cy="620" r="2.5" fill="#fff" stroke="#1e1e1e" stroke-width="1.5"/>
<circle cx="725.2" cy="597.8" r="2.5" fill="#fff" stroke="#1e1e1e" stroke-width="1.5"/>
<circle cx="749.7" cy="581.9" r="2.5" fill="#fff" stroke="#1e1e1e" stroke-width="1.5"/>
<circle cx="748.5" cy="608" r="2.5" fill="#fff" stroke="#1e1e1e" stroke-width="1.5"/>
<circle cx="697.7" cy="650.6" r="2.5" fill="#fff" stroke="#1e1e1e" stroke-width="1.5"/>
<ellipse cx="723" cy="632.9" rx="2.1" ry="3.0" fill="#fff" stroke="#1e1e1e" stroke-width="1.4"/>
<circle cx="672.2" cy="661.2" r="1.5" fill="#fff" stroke="#1e1e1e" stroke-width="1.1"/>
</g>
</svg>
</body></html>
